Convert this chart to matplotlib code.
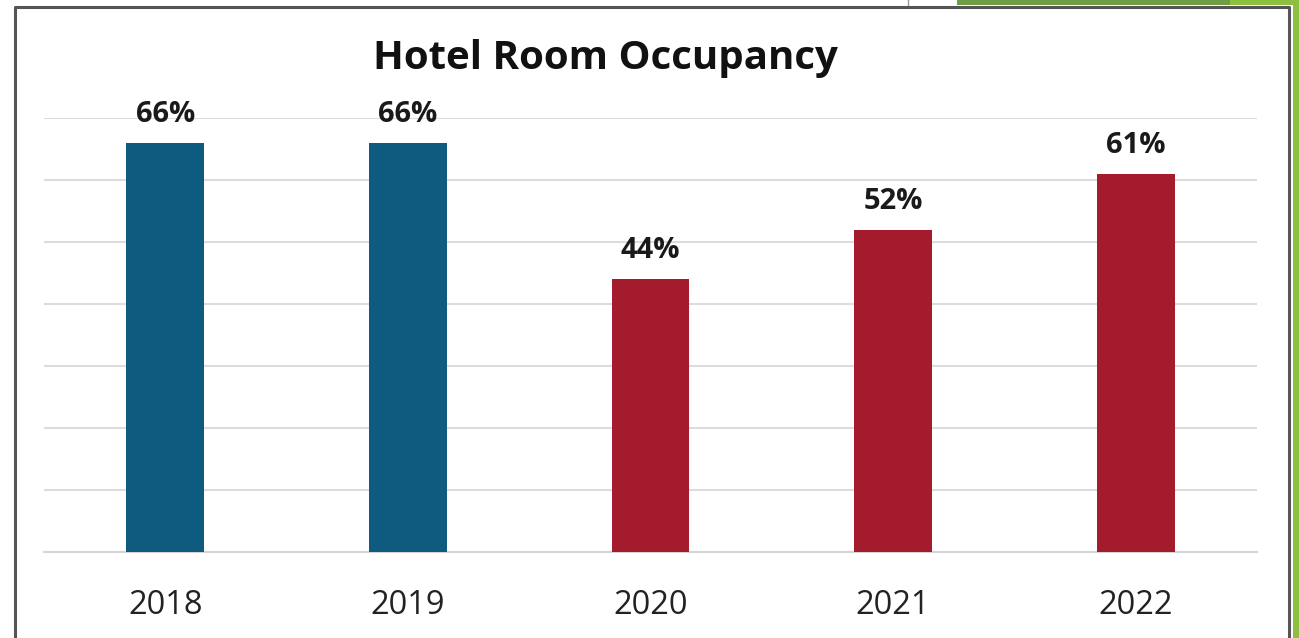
import matplotlib.pyplot as plt
from matplotlib.patches import Rectangle
from matplotlib.lines import Line2D

years = ["2018", "2019", "2020", "2021", "2022"]
occupancy = [66, 66, 44, 52, 61]
bar_colors = ["#0F5A7F", "#0F5A7F", "#A51B2E", "#A51B2E", "#A51B2E"]

plt.rcParams['font.family'] = ['Open Sans', 'DejaVu Sans']

fig = plt.figure(figsize=(12.99, 6.38), dpi=100)
W, H = 1299, 638

# page decorations around the chart (frame, green accents)
fig.add_artist(Rectangle((1293 / W, 0), 6 / W, 1, transform=fig.transFigure,
                         color="#8DC03F", lw=0))
fig.add_artist(Rectangle((957 / W, 1 - 5 / H), 273 / W, 5 / H, transform=fig.transFigure,
                         color="#6E9D45", lw=0))
fig.add_artist(Rectangle((1230 / W, 1 - 5 / H), 63 / W, 5 / H, transform=fig.transFigure,
                         color="#8DC03F", lw=0))
fig.add_artist(Line2D([908 / W, 908 / W], [1, 1 - 7 / H], transform=fig.transFigure,
                      color="#999999", lw=1))
fig.add_artist(Line2D([15 / W, 15 / W, 1289 / W, 1289 / W],
                      [0, 1 - 7 / H, 1 - 7 / H, 0], transform=fig.transFigure,
                      color="#555555", lw=2.2))

ax = fig.add_axes([44 / W, 1 - 552 / H, (1257 - 44) / W, (552 - 118) / H])
x = range(len(years))
bars = ax.bar(x, occupancy, width=0.32, color=bar_colors, zorder=3)

for b, v in zip(bars, occupancy):
    ax.annotate(f"{v}%", (b.get_x() + b.get_width() / 2, v), xytext=(0, 10),
                textcoords="offset points", ha="center", va="bottom",
                fontsize=21, fontweight="bold", color="#1a1a1a", annotation_clip=False)

ax.set_xlim(-0.5, len(years) - 0.5)
ax.set_ylim(0, 70)
ax.set_yticks(range(0, 71, 10))
ax.yaxis.grid(True, color="#DCDCDC", lw=1.5, zorder=0)
ax.tick_params(axis="y", left=False, labelleft=False)
ax.tick_params(axis="x", length=0, pad=27, labelsize=23.5, labelcolor="#222222")
ax.set_xticks(list(x))
ax.set_xticklabels(years)
for s in ["top", "right", "left"]:
    ax.spines[s].set_visible(False)
ax.spines["bottom"].set_color("#D5D5D5")
ax.spines["bottom"].set_linewidth(1.5)

fig.text(605 / W, 1 - 58 / H, "Hotel Room Occupancy", ha="center", va="center",
         fontsize=29, fontweight="bold", color="#111111")

fig.savefig("out.png", dpi=100)
